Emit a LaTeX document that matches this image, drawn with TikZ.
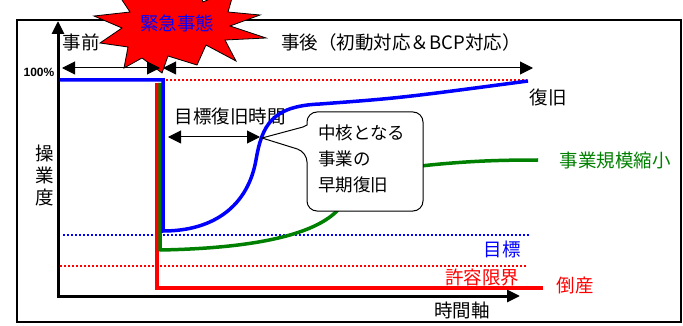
\documentclass[tikz,border=0pt]{standalone}
\usepackage{fontspec}
\setmainfont{Noto Sans CJK JP}
\newfontfamily\arialfont{Liberation Sans}
\usetikzlibrary{arrows.meta}
\definecolor{dgreen}{RGB}{0,128,0}
\begin{document}
\begin{tikzpicture}[x=1pt,y=-1pt,
  lbl/.style={font=\fontsize{18.5}{22}\selectfont, inner sep=0pt},
  dbl/.style={line width=1pt,{Triangle[length=13pt,width=13pt]}-{Triangle[length=13pt,width=13pt]}},
  axisline/.style={line width=3pt,-{Triangle[length=13pt,width=12pt]}},
  dots/.style={line width=2pt,dash pattern=on 2pt off 2pt},
  curve/.style={line width=3.5pt,line join=round}]
\useasboundingbox (0,0) rectangle (683,326);
% frame
\draw[line width=1.5pt] (17,20) rectangle (681,322);
% starburst
\draw[fill=red,line width=0.8pt,line join=miter]
  (162,73) -- (142,58) -- (124,68) -- (128,47) -- (100,43) -- (122,28)
  -- (94,16) -- (130,12) -- (112,-15) -- (148,-2) -- (150,-35) -- (170,-5)
  -- (190,-35) -- (203,2) -- (235,-12) -- (228,12) -- (260,15) -- (230,26)
  -- (266,38) -- (225,40) -- (236,61) -- (206,45) -- (197,65) -- (168,56)
  -- cycle;
\node[lbl,text=blue] (emerg) at (177,23) {緊急事態};
% coordinates
\coordinate (O) at (58,296);
\coordinate (ytip) at (58,21);
\coordinate (xtip) at (520,296);
\coordinate (preL) at (62,68);
\coordinate (preR) at (160,68);
\coordinate (postL) at (163,68);
\coordinate (postR) at (533,68);
\coordinate (rtL) at (168,137);
\coordinate (rtR) at (260,137);
% labels
\node[lbl] (pre) at (81,42) {事前};
\node[lbl] (post) at (401,42) {事後（初動対応＆BCP対応）};
\node[font=\arialfont\bfseries\fontsize{12}{14}\selectfont,inner sep=0pt] (pct) at (39,72) {100\%};
\node[lbl,align=center,font=\fontsize{18.5}{22}\selectfont] (opr) at (45,175) {操\\業\\度};
\node[lbl] (rtime) at (230,116) {目標復旧時間};
\node[lbl] (recov) at (548,97) {復旧};
\node[lbl,text=dgreen] (shrink) at (615,160) {事業規模縮小};
\node[lbl,text=blue] (goal) at (502,249) {目標};
\node[lbl,text=red] (limit) at (482,278) {許容限界};
\node[lbl,text=red] (bank) at (575,285) {倒産};
\node[lbl] (taxis) at (462,310) {時間軸};
% timeline arrows
\draw[dbl] (preL) -- (preR);
\draw[dbl] (postL) -- (postR);
% dotted lines
\draw[dots,red] (166,80) -- (527,80);
\draw[dots,blue] (63,235) -- (530,235);
\draw[dots,red] (60,266) -- (527,266);
% red: bankruptcy
\draw[curve,red,line join=miter] (157,83) -- (157,288) -- (543,288);
% green: scale-down
\draw[curve,dgreen] (160,83) -- (160,250)
  .. controls (270,248) and (330,230) .. (345,200)
  .. controls (360,175) and (400,168) .. (430,165)
  .. controls (470,161) and (500,160) .. (538,160);
% blue: recovery
\draw[curve,blue,line join=miter] (60,80) -- (163,80) -- (163,231)
  .. controls (215,231) and (248,205) .. (256,160)
  .. controls (262,125) and (272,106) .. (320,104)
  .. controls (400,98) .. (528,81);
% recovery time arrow
\draw[dbl] (rtL) -- (rtR);
% callout
\draw[fill=white,line width=1pt,rounded corners=10pt]
  (365,112) -- (423,112) -- (423,211) -- (307,211) -- (307,152)
  [sharp corners] -- (262,138) -- (303,127) -- (307,125)
  [rounded corners=10pt] -- (307,112) -- cycle;
\node[inner sep=0pt,anchor=west,align=left,font=\fontsize{17.5}{26}\selectfont] (core) at (318,159) {中核となる\\事業の\\早期復旧};
% axes
\draw[axisline] (58,297.5) -- (ytip);
\draw[axisline] (56.5,296) -- (xtip);
\end{tikzpicture}
\end{document}
